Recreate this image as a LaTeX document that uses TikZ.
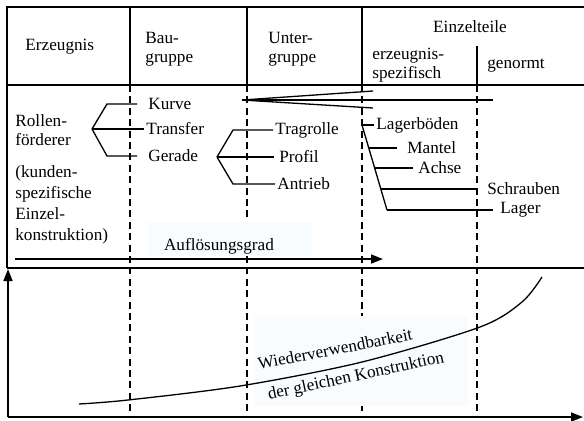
\documentclass[tikz,border=0pt]{standalone}
\usepackage{fontspec}
\setmainfont{Liberation Serif}
\usepackage{tikz}
\usetikzlibrary{arrows.meta, calc}
\definecolor{tint}{RGB}{249,252,254}
\tikzstyle{txt} = [inner sep=1pt, font=\fontsize{8.6}{9.6}\selectfont, align=left]
\tikzstyle{item} = [txt, anchor=west]
\tikzstyle{frame} = [line width=0.8pt]
\tikzstyle{branch} = [line width=0.65pt]
\tikzstyle{divider} = [line width=0.65pt, dash pattern=on 3.5pt off 2.2pt]
\tikzstyle{arrow} = [line width=0.8pt, -{Triangle[length=6pt, width=4.5pt]}]

\begin{document}
\begin{tikzpicture}[x=0.5pt, y=-0.5pt]
    \useasboundingbox (0,0) rectangle (584,420);
    % table frame and header
    \draw[frame] (7,268) -- (7,7) -- (584,7);
    \draw[frame] (7,85) -- (584,85);
    \draw[frame] (7,268) -- (584,268);
    \draw[frame] (130,7) -- (130,85) (247,7) -- (247,85) (362,7) -- (362,85) (477,46) -- (477,85);
    \foreach \x in {130,247,362,477}
        \draw[divider] (\x,85) -- (\x,417);
    \fill[tint] (148,222) rectangle (312,256);
    \fill[tint] (254,316) rectangle (468,406);
    \node[item] (erzeugnis) at (23,47) {Erzeugnis};
    \node[item] (bau) at (143,49) {Bau-\\gruppe};
    \node[item] (unter) at (266,49) {Unter-\\gruppe};
    \node[txt] (einzelteile) at (470,27) {Einzelteile};
    \node[item] (erzspez) at (370,65) {erzeugnis-\\spezifisch};
    \node[txt] (genormt) at (516,66) {genormt};
    % product structure
    \node[item] (rollen) at (13,130) {Rollen-\\förderer};
    \node[item, font=\fontsize{8.6}{10.5}\selectfont] (kunden) at (13,205) {(kunden-\\spezifische\\Einzel-\\konstruktion)};
    \node[item] (kurve) at (146,104) {Kurve};
    \node[item] (transfer) at (144,129) {Transfer};
    \node[item] (gerade) at (146,156) {Gerade};
    \node[item] (tragrolle) at (273,130) {Tragrolle};
    \node[item] (profil) at (277,157) {Profil};
    \node[item] (antrieb) at (275,184) {Antrieb};
    \node[item] (lagerboeden) at (374,125) {Lagerböden};
    \node[item] (mantel) at (405,148) {Mantel};
    \node[item] (achse) at (416,168) {Achse};
    \node[item] (schrauben) at (485,189) {Schrauben};
    \node[item] (lager) at (498,210) {Lager};
    \coordinate (rf) at (92,129);
    \draw[branch, shorten >=4.5pt] (rf) -- ++(15,-25) -- (kurve.west);
    \draw[branch] (rf) -- (transfer.west);
    \draw[branch, shorten >=4.5pt] (rf) -- ++(15,27) -- (gerade.west);
    \coordinate (gf) at (217,157);
    \draw[branch] (gf) -- ++(16,-27) -- (tragrolle.west);
    \draw[branch, shorten >=1.5pt] (gf) -- (profil.west);
    \draw[branch] (gf) -- ++(16,27) -- (antrieb.west);
    \coordinate (fan) at (242,100);
    \coordinate (fan-a) at (373,91);
    \coordinate (fan-b) at (493,100);
    \coordinate (fan-c) at (373,108);
    \draw[branch] (fan-a) -- (fan) -- (fan-c);
    \draw[branch] (fan) -- (fan-b);
    \coordinate (et-top) at (362,125);
    \coordinate (et-bot) at (387,210);
    \draw[branch] (et-top) -- (et-bot);
    \draw[branch] (et-top) -- (lagerboeden.west);
    \draw[branch, shorten >=4pt] ($(et-top)!0.27!(et-bot)$) coordinate (m) -- (mantel.west |- m);
    \draw[branch, shorten >=1.5pt] ($(et-top)!0.506!(et-bot)$) coordinate (a) -- (achse.west |- a);
    \draw[branch, shorten >=3.5pt] ($(et-top)!0.753!(et-bot)$) coordinate (s) -- (schrauben.west |- s);
    \draw[branch, shorten >=2.5pt] (et-bot) -- (lager.west);
    % resolution arrow
    \coordinate (aufl-start) at (15,259);
    \coordinate (aufl-end) at (383,259);
    \draw[arrow] (aufl-start) -- (aufl-end);
    \node[txt] (aufl) at (219,246) {Auflösungsgrad};
    % reuse chart
    \coordinate (origin) at (8,417);
    \coordinate (ytip) at (8,269);
    \coordinate (xtip) at (583,417);
    \draw[arrow] (origin) -- (ytip);
    \draw[arrow] (origin) -- (xtip);
    \draw[branch] plot[smooth] coordinates {(79,404) (128,400) (240,386) (362,362) (480,327) (522,302) (542,277)};
    \node[txt, rotate=11] (wv) at (335,349) {Wiederverwendbarkeit};
    \node[txt, rotate=12] (glk) at (356,377) {der gleichen Konstruktion};
\end{tikzpicture}
\end{document}
